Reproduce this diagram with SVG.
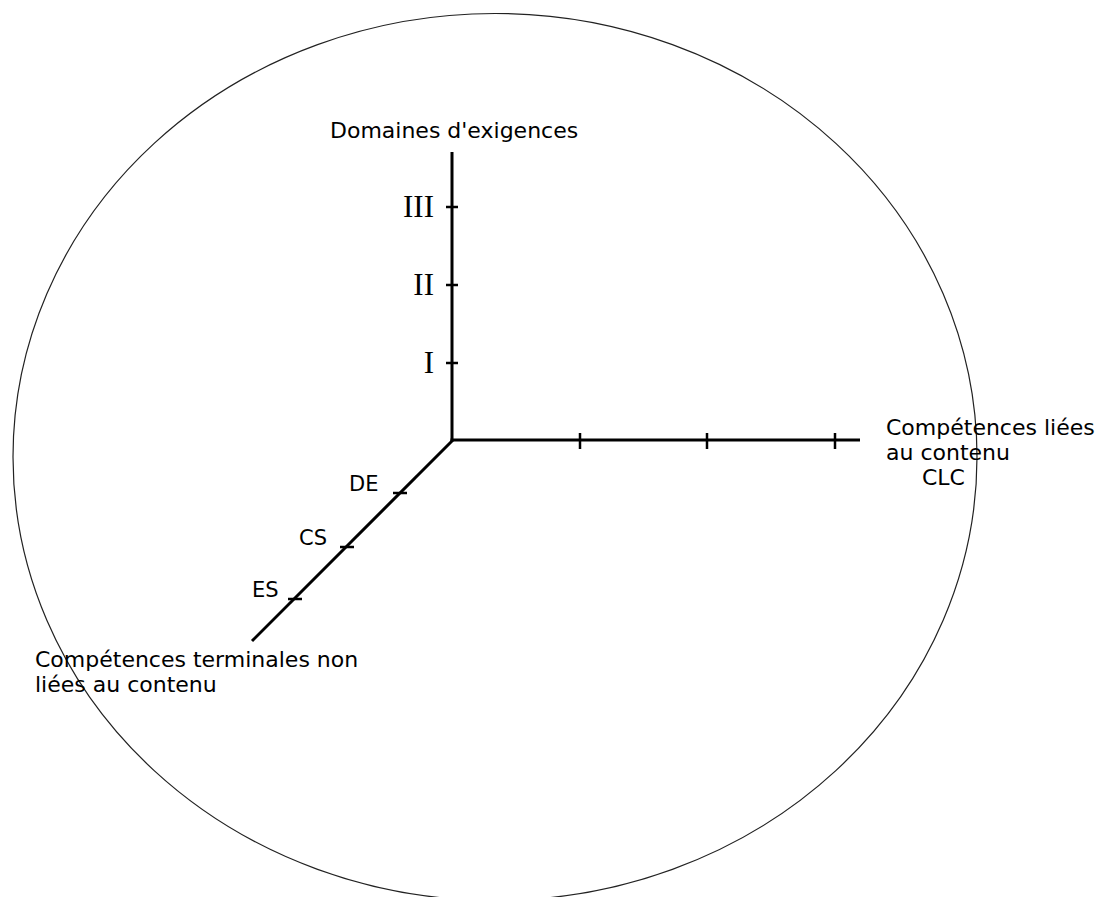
<svg xmlns="http://www.w3.org/2000/svg" width="1099" height="897" viewBox="0 0 1099 897">
<style>
.t{font-family:"DejaVu Sans",Verdana,sans-serif;font-size:22px;fill:#000}
.s{font-family:"DejaVu Sans",Verdana,sans-serif;font-size:21px;fill:#000}
.r{font-family:"Liberation Serif","Times New Roman",serif;font-size:31px;fill:#000}
.ax{stroke:#000;stroke-width:3;fill:none;stroke-linecap:butt}
.tk{stroke:#000;stroke-width:2.5;fill:none}
</style>
<rect width="1099" height="897" fill="#fff"/>
<g id="boundary">
<ellipse cx="495" cy="457" rx="482" ry="443.5" fill="none" stroke="#222" stroke-width="1.2"/>
</g>
<g id="connectors">
<line class="ax" x1="452" y1="152" x2="452" y2="441"/>
<line class="ax" x1="450.5" y1="440" x2="860" y2="440"/>
<line class="ax" x1="453" y1="440" x2="252" y2="641"/>
<line class="tk" x1="446" y1="207" x2="458" y2="207"/>
<line class="tk" x1="446" y1="285" x2="458" y2="285"/>
<line class="tk" x1="446" y1="363" x2="458" y2="363"/>
<line class="tk" x1="580" y1="433" x2="580" y2="449"/>
<line class="tk" x1="707" y1="433" x2="707" y2="449"/>
<line class="tk" x1="835" y1="433" x2="835" y2="449"/>
<line class="tk" x1="393" y1="493" x2="407" y2="493"/>
<line class="tk" x1="340" y1="547" x2="354" y2="547"/>
<line class="tk" x1="288" y1="599" x2="302" y2="599"/>
</g>
<g id="axis-vertical">
<text class="t" x="330" y="138">Domaines d'exigences</text>
<text class="r" x="434" y="217" text-anchor="end">III</text>
<text class="r" x="434" y="295" text-anchor="end">II</text>
<text class="r" x="434" y="373" text-anchor="end">I</text>
</g>
<g id="axis-horizontal">
<text class="t" x="886" y="435">Compétences liées</text>
<text class="t" x="886" y="460">au contenu</text>
<text class="t" x="922" y="485">CLC</text>
</g>
<g id="axis-diagonal">
<text class="s" x="349" y="491">DE</text>
<text class="s" x="299" y="545">CS</text>
<text class="s" x="252" y="597">ES</text>
<text class="t" x="35" y="667">Compétences terminales non</text>
<text class="t" x="35" y="692">liées au contenu</text>
</g>
</svg>
